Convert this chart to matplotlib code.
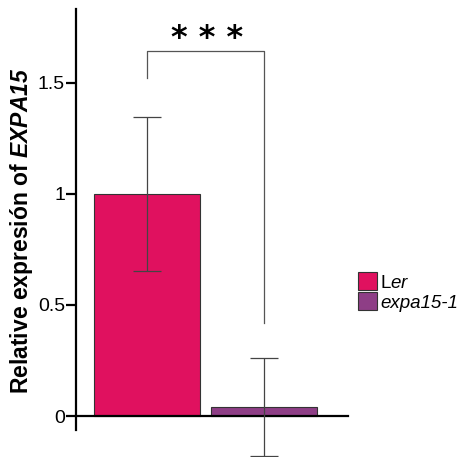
import matplotlib
matplotlib.use("Agg")
import matplotlib.pyplot as plt
from matplotlib.patches import Patch

# data
groups = ["Ler", "expa15-1"]
means = [1.0, 0.04]
errs = [0.345, 0.22]
colors = ["#E0115F", "#8E3E86"]
labels = [r"L$\it{er}$", "expa15-1"]
yticks = [0, 0.5, 1, 1.5]
ytick_labels = ["0", "0.5", "1", "1.5"]

plt.rcParams["font.family"] = ["Liberation Sans", "DejaVu Sans"]
plt.rcParams["mathtext.fontset"] = "custom"
plt.rcParams["mathtext.it"] = "Liberation Sans:italic"
plt.rcParams["mathtext.bfit"] = "Liberation Sans:bold:italic"

fig = plt.figure(figsize=(4.67, 4.57), dpi=100)
ax = fig.add_axes([0.163, 0.002, 0.582, 0.987])

x = [0, 1]
ax.bar(x, means, width=0.9, color=colors, edgecolor="#333333", linewidth=0.8, zorder=2)
ax.errorbar(x, means, yerr=errs, fmt="none", ecolor="#444444", elinewidth=0.9,
            capsize=10, capthick=0.9, zorder=3)

# significance bracket
ax.plot([0, 0, 1, 1], [1.52, 1.645, 1.645, 0.42], color="#555555", lw=0.9, zorder=3)
ax.text(0.51, 1.70, "* * *", ha="center", va="center", fontsize=23,
        fontweight="bold", family="DejaVu Sans")

ax.set_xlim(-0.607, 1.718)
ax.set_ylim(-0.18, 1.85)
ax.set_xticks([])
ax.set_yticks(yticks)
ax.set_yticklabels(ytick_labels, fontsize=14)
ax.tick_params(axis="y", length=7, width=1.6, pad=1, color="black")

for s in ["top", "right"]:
    ax.spines[s].set_visible(False)
ax.spines["bottom"].set_position(("data", 0))
ax.spines["bottom"].set_linewidth(1.6)
ax.spines["left"].set_linewidth(1.6)
ax.spines["left"].set_bounds(-0.063, 1.83)

ax.set_ylabel(r"Relative expresión of $\mathbfit{EXPA15}$", fontsize=16.5,
              fontweight="bold", labelpad=2)

handles = [Patch(facecolor=c, edgecolor="#333333", linewidth=0.8) for c in colors]
leg = fig.legend(handles, labels, loc="center left", bbox_to_anchor=(0.742, 0.361),
                 frameon=False, fontsize=13.5, handlelength=1.0, handleheight=1.05,
                 handletextpad=0.2, labelspacing=0.05, borderpad=0.1)
leg.get_texts()[1].set_fontstyle("italic")

fig.savefig("out.png", dpi=100)
